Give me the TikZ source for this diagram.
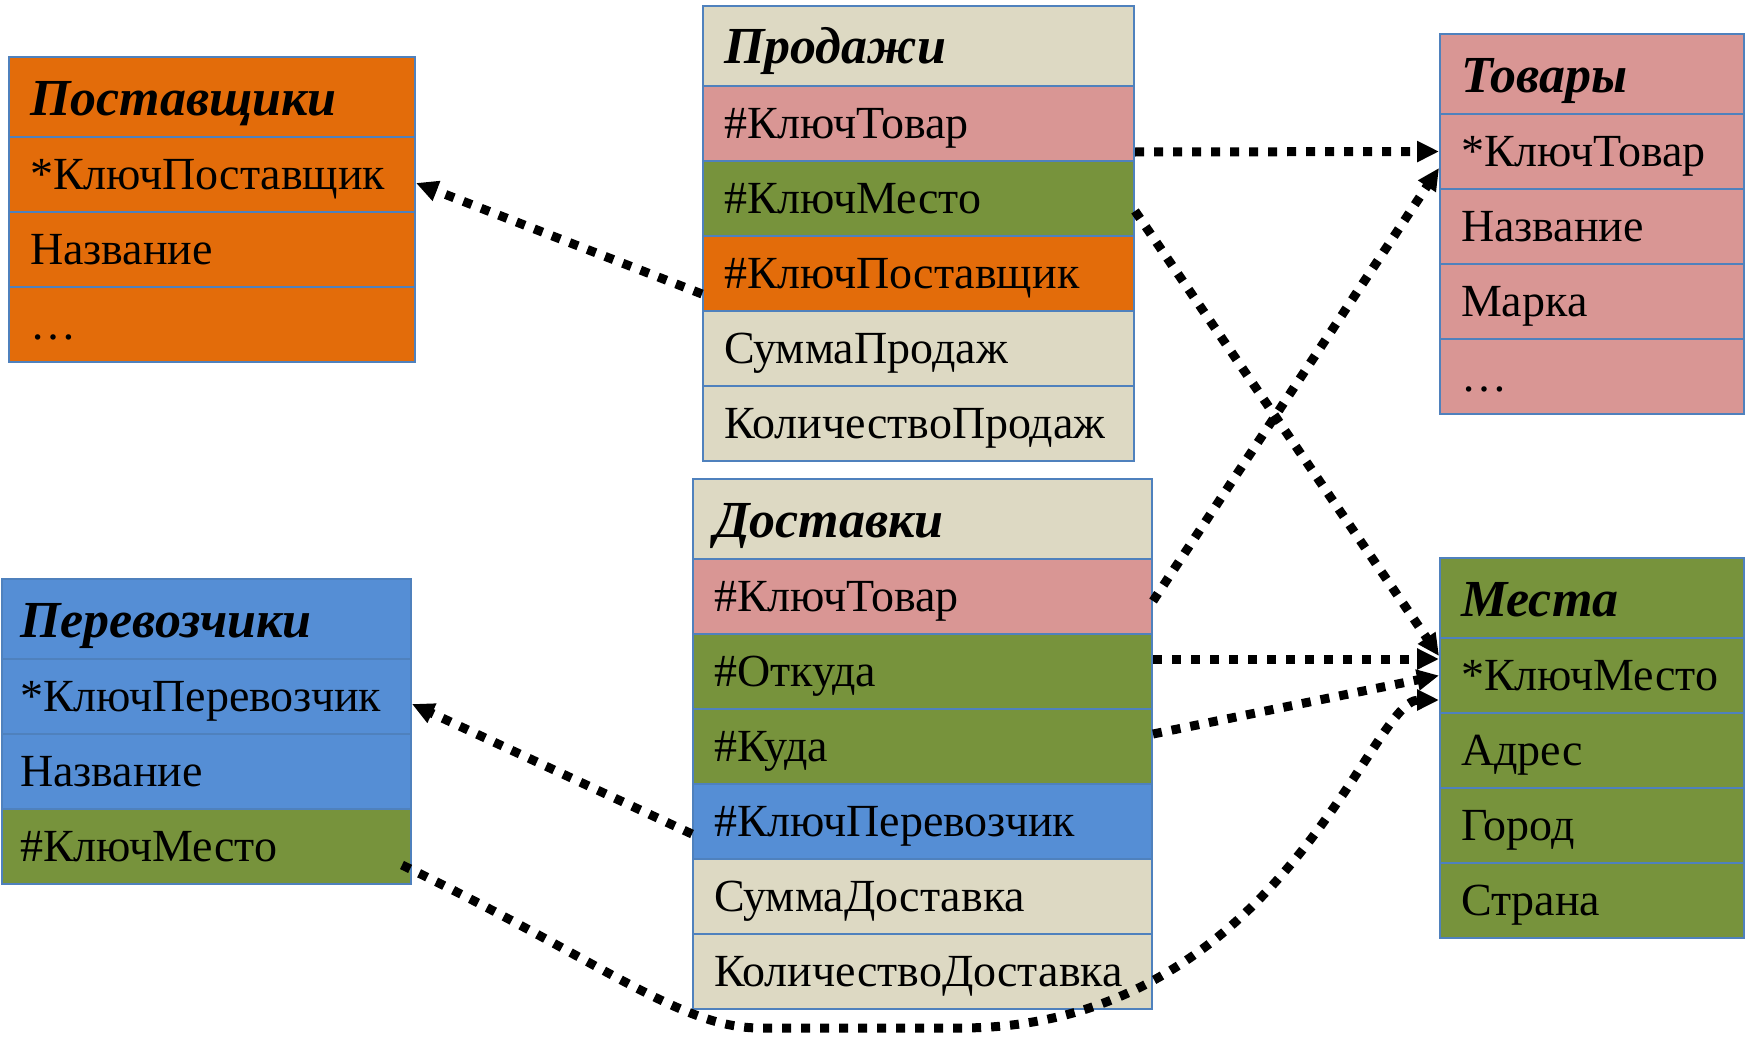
\documentclass[tikz,border=0pt]{standalone}
\usepackage{fontspec}
\setmainfont{Liberation Serif}
\usetikzlibrary{arrows.meta}

\definecolor{beige}{HTML}{DDD9C3}
\definecolor{pinkrow}{HTML}{D99694}
\definecolor{greenrow}{HTML}{77933C}
\definecolor{orangerow}{HTML}{E36C0A}
\definecolor{bluerow}{HTML}{558ED5}
\definecolor{edge}{HTML}{4F81BD}

\tikzset{
  row/.style={draw=edge, line width=1pt, anchor=north west,
    inner xsep=10.5pt, inner ysep=0pt, minimum height=37.5pt,
    text height=16pt, text depth=1.5pt, align=left,
    font=\fontsize{23}{27}\selectfont},
  head/.style={row, minimum height=40pt, text height=18.5pt, text depth=0.5pt,
    font=\fontsize{26}{30}\selectfont\bfseries\itshape},
  wsupp/.style={text width=182pt},
  wsales/.style={text width=194.5pt},
  wdeliv/.style={text width=208.5pt},
  wright/.style={text width=131pt},
  wcarr/.style={inner xsep=9pt, text width=186.5pt},
  conn/.style={line width=4.5pt, dash pattern=on 4.5pt off 5pt,
    -{Triangle[length=11pt,width=10pt]}}
}

\begin{document}
\begin{tikzpicture}[x=0.5pt, y=-0.5pt]
\fill[white] (0,0) rectangle (1748,1038);
\useasboundingbox (0,0) rectangle (1748,1038);

% Поставщики
\node[head,wsupp,fill=orangerow] (supp-h) at (8,56) {Поставщики};
\node[row,wsupp,fill=orangerow] (supp-1) at (8,136) {*КлючПоставщик};
\node[row,wsupp,fill=orangerow] (supp-2) at (8,211) {Название};
\node[row,wsupp,fill=orangerow] (supp-3) at (8,286) {…};

% Продажи
\node[head,wsales,fill=beige] (sales-h) at (702,5) {Продажи};
\node[row,wsales,fill=pinkrow] (sales-1) at (702,85) {\#КлючТовар};
\node[row,wsales,fill=greenrow] (sales-2) at (702,160) {\#КлючМесто};
\node[row,wsales,fill=orangerow] (sales-3) at (702,235) {\#КлючПоставщик};
\node[row,wsales,fill=beige] (sales-4) at (702,310) {СуммаПродаж};
\node[row,wsales,fill=beige] (sales-5) at (702,385) {КоличествоПродаж};

% Товары
\node[head,wright,fill=pinkrow] (goods-h) at (1439,33) {Товары};
\node[row,wright,fill=pinkrow] (goods-1) at (1439,113) {*КлючТовар};
\node[row,wright,fill=pinkrow] (goods-2) at (1439,188) {Название};
\node[row,wright,fill=pinkrow] (goods-3) at (1439,263) {Марка};
\node[row,wright,fill=pinkrow] (goods-4) at (1439,338) {…};

% Перевозчики
\node[head,wcarr,fill=bluerow] (carr-h) at (1,578) {Перевозчики};
\node[row,wcarr,fill=bluerow] (carr-1) at (1,658) {*КлючПеревозчик};
\node[row,wcarr,fill=bluerow] (carr-2) at (1,733) {Название};
\node[row,wcarr,fill=greenrow] (carr-3) at (1,808) {\#КлючМесто};

% Доставки
\node[head,wdeliv,fill=beige] (deliv-h) at (692,478) {Доставки};
\node[row,wdeliv,fill=pinkrow] (deliv-1) at (692,558) {\#КлючТовар};
\node[row,wdeliv,fill=greenrow] (deliv-2) at (692,633) {\#Откуда};
\node[row,wdeliv,fill=greenrow] (deliv-3) at (692,708) {\#Куда};
\node[row,wdeliv,fill=bluerow] (deliv-4) at (692,783) {\#КлючПеревозчик};
\node[row,wdeliv,fill=beige] (deliv-5) at (692,858) {СуммаДоставка};
\node[row,wdeliv,fill=beige] (deliv-6) at (692,933) {КоличествоДоставка};

% Места
\node[head,wright,fill=greenrow] (place-h) at (1439,557) {Места};
\node[row,wright,fill=greenrow] (place-1) at (1439,637) {*КлючМесто};
\node[row,wright,fill=greenrow] (place-2) at (1439,712) {Адрес};
\node[row,wright,fill=greenrow] (place-3) at (1439,787) {Город};
\node[row,wright,fill=greenrow] (place-4) at (1439,862) {Страна};

% foreign keys
\draw[conn] ([yshift=-14.25pt]sales-1.east) -- (goods-1.west);
\draw[conn] ([yshift=-6.25pt]sales-2.east) -- ([yshift=9.75pt]place-1.west);
\draw[conn] ([yshift=-10.25pt]sales-3.west) -- ([yshift=-4.25pt]supp-1.east);
\draw[conn] ([yshift=-2.25pt]deliv-1.east) -- ([yshift=-8.25pt]goods-1.west);
\draw[conn] ([yshift=6.25pt]deliv-2.east) -- ([yshift=8.25pt]place-1.west);
\draw[conn] ([yshift=6.25pt]deliv-3.east) -- (place-1.west);
\draw[conn] ([yshift=-6.25pt]deliv-4.west) -- ([yshift=-3.75pt]carr-1.east);
\draw[conn] ([xshift=-5pt,yshift=-9.25pt]carr-3.east)
  .. controls (600,960) and (680,1028) .. (760,1028) -- (960,1028)
  .. controls (1280,1028) and (1370,700) .. ([yshift=-12.25pt]place-1.west);
\end{tikzpicture}
\end{document}
